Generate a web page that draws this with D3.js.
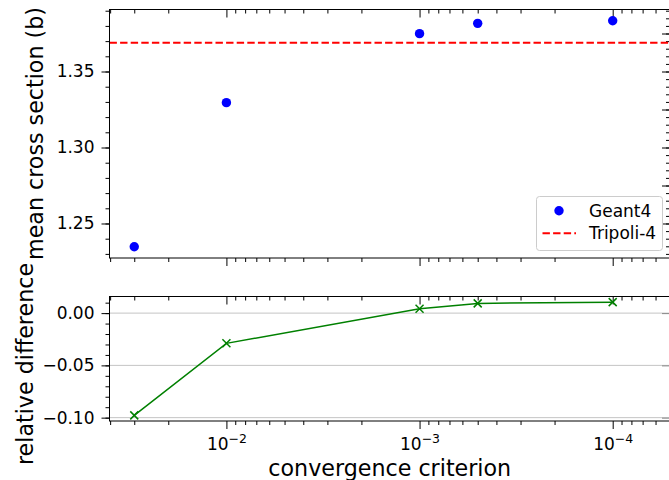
<!DOCTYPE html>
<html>
<head>
<meta charset="utf-8">
<script src="https://cdn.jsdelivr.net/npm/d3@7"></script>
<style>
  body { margin: 0; background: #fff; }
  svg { display: block; font-family: "DejaVu Sans", sans-serif; }
  .axis path.domain { display: none; }
  .axis line { stroke: #000; stroke-width: 1; }
  .axis text { font-size: 17px; fill: #000; font-family: "DejaVu Sans", sans-serif; }
</style>
</head>
<body>
<div id="chart"></div>
<script>
// convergence criterion (x) and the measured values
var criteria = [0.03, 0.01, 0.001, 0.0005, 0.0001];
var geant4 = [1.2347, 1.3295, 1.3749, 1.3817, 1.3834];
var tripoli = 1.369;
var relDiff = [-0.0978, -0.0289, 0.0042, 0.0093, 0.0105];

// tick labels
var xMajorTicks = [1e-2, 1e-3, 1e-4];
var xTickExp = ["−2", "−3", "−4"];
var topYTicks = [1.25, 1.30, 1.35];
var topRightTicks = [1.25, 1.275, 1.30, 1.325, 1.35, 1.375];
var botYTicks = [0.00, -0.05, -0.10];

var width = 669, height = 480;
var left = 109.5, right = 670;
var topPanel = {y0: 9.5, y1: 258};
var botPanel = {y0: 296.5, y1: 421};

var svg = d3.select("#chart").append("svg")
    .attr("width", width)
    .attr("height", height);

var x = d3.scaleLog().domain([0.0403, 5.05e-5]).range([left, right]);
var yTop = d3.scaleLinear().domain([1.2273, 1.3908]).range([topPanel.y1, topPanel.y0]);
var yBot = d3.scaleLinear().domain([-0.1032, 0.0159]).range([botPanel.y1, botPanel.y0]);

// minor ticks on the log axis
var xMinor = [];
[1e-5, 1e-4, 1e-3, 1e-2].forEach(function(dec) {
    for (var m = 2; m <= 9; m++) {
        var v = dec * m;
        if (v <= 0.0403 && v >= 5.05e-5) xMinor.push(v);
    }
});

function xAxes(panel, labels) {
    // bottom, outward
    svg.append("g").attr("class", "axis")
        .attr("transform", "translate(0," + panel.y1 + ")")
        .call(d3.axisBottom(x).tickValues(xMinor).tickSize(4).tickFormat(""));
    var bot = svg.append("g").attr("class", "axis")
        .attr("transform", "translate(0," + panel.y1 + ")")
        .call(d3.axisBottom(x).tickValues(xMajorTicks).tickSize(8).tickPadding(6).tickFormat(""));
    if (labels) {
        bot.selectAll(".tick text").each(function(d, i) {
            var t = d3.select(this).text(null).attr("dy", null).attr("y", 29);
            t.append("tspan").text("10");
            t.append("tspan").attr("dy", -7.5).style("font-size", "12.5px").text(xTickExp[i]);
        });
    }
    // top, inward
    svg.append("g").attr("class", "axis")
        .attr("transform", "translate(0," + panel.y0 + ")")
        .call(d3.axisBottom(x).tickValues(xMinor).tickSize(4).tickFormat(""));
    svg.append("g").attr("class", "axis")
        .attr("transform", "translate(0," + panel.y0 + ")")
        .call(d3.axisBottom(x).tickValues(xMajorTicks).tickSize(8).tickFormat(""));
}

// ---- top panel ----
svg.append("g").attr("class", "axis")
    .attr("transform", "translate(" + left + ",0)")
    .call(d3.axisLeft(yTop).tickValues(d3.range(1.23, 1.395, 0.01)).tickSize(4).tickFormat(""));
svg.append("g").attr("class", "axis")
    .attr("transform", "translate(" + left + ",0)")
    .call(d3.axisLeft(yTop).tickValues(topYTicks).tickSize(8).tickPadding(7).tickFormat(d3.format(".2f")));
svg.append("g").attr("class", "axis")
    .attr("transform", "translate(" + right + ",0)")
    .call(d3.axisRight(yTop).tickValues(d3.range(1.23, 1.391, 0.005)).tickSize(-4).tickFormat(""));
svg.append("g").attr("class", "axis")
    .attr("transform", "translate(" + right + ",0)")
    .call(d3.axisRight(yTop).tickValues(topRightTicks).tickSize(-8).tickFormat(""));
xAxes(topPanel, false);

svg.append("line")
    .attr("x1", left).attr("x2", right)
    .attr("y1", yTop(tripoli)).attr("y2", yTop(tripoli))
    .attr("stroke", "#ff0000")
    .attr("stroke-width", 2)
    .attr("stroke-dasharray", "7.4,3.2");

svg.append("g").selectAll("circle")
    .data(criteria)
    .enter().append("circle")
    .attr("cx", function(d) { return x(d); })
    .attr("cy", function(d, i) { return yTop(geant4[i]); })
    .attr("r", 4.7)
    .attr("fill", "#0000ff");

svg.append("rect")
    .attr("x", left).attr("y", topPanel.y0)
    .attr("width", right - left).attr("height", topPanel.y1 - topPanel.y0)
    .attr("fill", "none").attr("stroke", "#000").attr("stroke-width", 1);

// legend
var legend = svg.append("g").attr("transform", "translate(536.5,196.5)");
legend.append("rect")
    .attr("width", 126).attr("height", 54).attr("rx", 3)
    .attr("fill", "#fff").attr("fill-opacity", 0.8)
    .attr("stroke", "#cccccc");
legend.append("circle").attr("cx", 22.5).attr("cy", 14.2).attr("r", 4.7).attr("fill", "#0000ff");
legend.append("line")
    .attr("x1", 6).attr("x2", 39.5).attr("y1", 36.8).attr("y2", 36.8)
    .attr("stroke", "#ff0000").attr("stroke-width", 2).attr("stroke-dasharray", "7.4,3.2");
legend.append("text").attr("x", 52.5).attr("y", 20.3).attr("font-size", "17px").text("Geant4");
legend.append("text").attr("x", 52.5).attr("y", 42.9).attr("font-size", "17px").text("Tripoli-4");

// ---- bottom panel ----
svg.append("g").selectAll("line")
    .data(botYTicks)
    .enter().append("line")
    .attr("x1", left).attr("x2", right)
    .attr("y1", function(d) { return yBot(d); })
    .attr("y2", function(d) { return yBot(d); })
    .attr("stroke", "#c4c4c4")
    .attr("stroke-width", 1);

svg.append("g").attr("class", "axis")
    .attr("transform", "translate(" + left + ",0)")
    .call(d3.axisLeft(yBot).tickValues(d3.range(-0.10, 0.0159, 0.01)).tickSize(4).tickFormat(""));
svg.append("g").attr("class", "axis")
    .attr("transform", "translate(" + left + ",0)")
    .call(d3.axisLeft(yBot).tickValues(botYTicks).tickSize(8).tickPadding(7)
        .tickFormat(function(d) { return d3.format(".2f")(d).replace("-", "−"); }));
svg.append("g").attr("class", "axis right-bot")
    .attr("transform", "translate(" + right + ",0)")
    .call(d3.axisRight(yBot).tickValues(botYTicks).tickSize(-8).tickFormat(""));
svg.selectAll(".right-bot line").style("stroke", "#888");
xAxes(botPanel, true);

var line = d3.line()
    .x(function(d) { return x(d); })
    .y(function(d, i) { return yBot(relDiff[i]); });

svg.append("path")
    .datum(criteria)
    .attr("d", line)
    .attr("fill", "none")
    .attr("stroke", "#008000")
    .attr("stroke-width", 1.5);

svg.append("g").selectAll("path")
    .data(criteria)
    .enter().append("path")
    .attr("transform", function(d, i) { return "translate(" + x(d) + "," + yBot(relDiff[i]) + ")"; })
    .attr("d", "M-4,-4L4,4M-4,4L4,-4")
    .attr("stroke", "#008000")
    .attr("stroke-width", 1.5);

svg.append("rect")
    .attr("x", left).attr("y", botPanel.y0)
    .attr("width", right - left).attr("height", botPanel.y1 - botPanel.y0)
    .attr("fill", "none").attr("stroke", "#000").attr("stroke-width", 1);

// axis titles
svg.append("text")
    .attr("transform", "translate(43,133.5) rotate(-90)")
    .attr("text-anchor", "middle")
    .attr("font-size", "22.2px")
    .text("mean cross section (b)");
svg.append("text")
    .attr("transform", "translate(33,364) rotate(-90)")
    .attr("text-anchor", "middle")
    .attr("font-size", "22.2px")
    .text("relative difference");
svg.append("text")
    .attr("x", (left + right) / 2)
    .attr("y", 476)
    .attr("text-anchor", "middle")
    .attr("font-size", "22.2px")
    .text("convergence criterion");
</script>
</body>
</html>
